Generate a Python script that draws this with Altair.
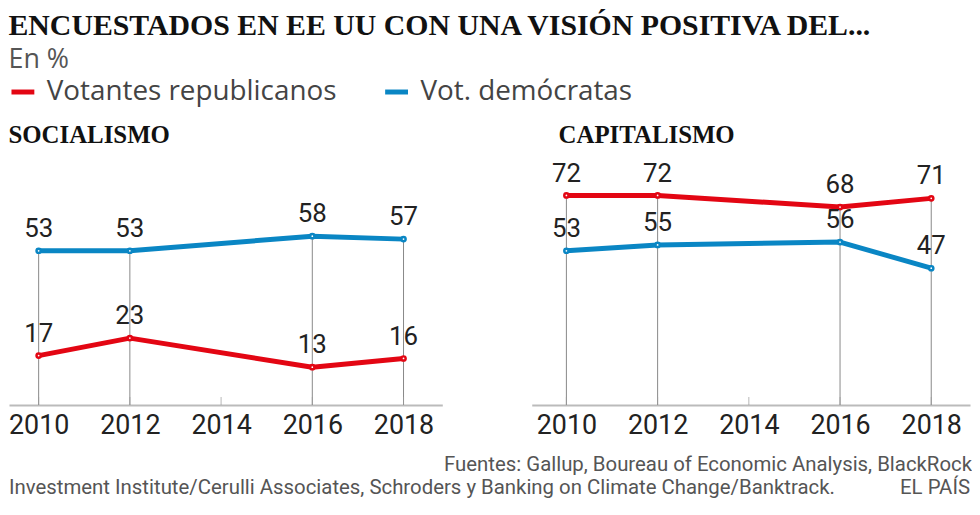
import altair as alt
import pandas as pd

years = [2010, 2012, 2016, 2018]
tick_years = [2010, 2012, 2014, 2016, 2018]
series = ["Votantes republicanos", "Vot. demócratas"]
colors = ["#e30613", "#0a86c4"]
soc_rep = [17, 23, 13, 16]
soc_dem = [53, 53, 58, 57]
cap_rep = [72, 72, 68, 71]
cap_dem = [53, 55, 56, 47]
title_text = "ENCUESTADOS EN EE UU CON UNA VISIÓN POSITIVA DEL..."
subtitle_text = "En %"
panel_titles = ["SOCIALISMO", "CAPITALISMO"]
footer_1 = "Fuentes: Gallup, Boureau of Economic Analysis, BlackRock"
footer_2 = "Investment Institute/Cerulli Associates, Schroders y Banking on Climate Change/Banktrack."
footer_3 = "EL PAÍS"

SANS = "Roboto"
WIDE = "Open Sans"
SERIF = "Liberation Serif"


def long_df(rep, dem):
    rows = []
    for s, vals in zip(series, [rep, dem]):
        for y, v in zip(years, vals):
            rows.append({"year": y, "serie": s, "value": v})
    return pd.DataFrame(rows)


def panel(rep, dem, ptitle, x0, width, dx):
    df = long_df(rep, dem)
    rules = pd.DataFrame({"year": years, "top": [max(a, b) for a, b in zip(rep, dem)],
                          "base": [0] * len(years)})
    ticks = pd.DataFrame({"year": tick_years, "base": [0] * len(tick_years)})
    xs = alt.Scale(domain=[x0, 2018.85], nice=False, zero=False)
    ys = alt.Scale(domain=[0, 85], nice=False)
    xax = alt.Axis(values=tick_years, format="d", ticks=False, labelFontSize=27,
                   labelColor="#222", labelFont=SANS, domainColor="#bbb", domainWidth=2,
                   labelPadding=8, title=None, grid=False)
    X = alt.X("year:Q", scale=xs, axis=xax)
    cscale = alt.Scale(domain=series, range=colors)
    legend = alt.Legend(orient="top", title=None, direction="horizontal", symbolType="stroke",
                        symbolStrokeWidth=5, symbolSize=529, labelFontSize=28, labelFont=WIDE,
                        labelColor="#444", columnPadding=38, labelOffset=10, padding=0,
                        labelLimit=600, offset=17)

    rule = alt.Chart(rules).mark_rule(color="#888", strokeWidth=1).encode(
        x=X, y=alt.Y("top:Q", scale=ys, axis=None), y2="base:Q")
    tick = alt.Chart(ticks).mark_tick(orient="vertical", size=8, thickness=1, color="#999",
                                      yOffset=-4).encode(x=X, y=alt.Y("base:Q", scale=ys, axis=None))
    line = alt.Chart(df).mark_line(strokeWidth=5, strokeCap="round", strokeJoin="round").encode(
        x=X, y=alt.Y("value:Q", scale=ys, axis=None),
        color=alt.Color("serie:N", scale=cscale, legend=legend))
    pts = alt.Chart(df).mark_point(filled=True, fill="white", size=18, strokeWidth=2.5,
                                   opacity=1).encode(
        x=X, y=alt.Y("value:Q", scale=ys, axis=None),
        stroke=alt.Stroke("serie:N", scale=cscale, legend=None))
    lab = alt.Chart(df).mark_text(baseline="bottom", dy=-9, fontSize=26, font=SANS,
                                  color="#222").encode(
        x=X, y=alt.Y("value:Q", scale=ys, axis=None), text="value:Q")
    return alt.layer(rule, tick, line, pts, lab).properties(
        width=width, height=249,
        title=alt.TitleParams(ptitle, anchor="start", dx=dx, font=SERIF, fontSize=25,
                              fontWeight="bold", color="#111", offset=10))


left = panel(soc_rep, soc_dem, panel_titles[0], 2009.35, 436, 0)
right = panel(cap_rep, cap_dem, panel_titles[1], 2009.24, 441, 27)
panels = alt.hconcat(left, right, spacing=90).resolve_scale(color="shared")

FS = 20.5
f1 = alt.Chart(pd.DataFrame({"t": [footer_1]})).mark_text(
    align="right", baseline="top", fontSize=FS, font=SANS, color="#555").encode(
    x=alt.value(969), y=alt.value(0), text="t:N")
f2 = alt.Chart(pd.DataFrame({"t": [footer_2]})).mark_text(
    align="left", baseline="top", fontSize=FS, font=SANS, color="#555").encode(
    x=alt.value(0), y=alt.value(23), text="t:N")
f3 = alt.Chart(pd.DataFrame({"t": [footer_3]})).mark_text(
    align="right", baseline="top", fontSize=FS, font=SANS, color="#555").encode(
    x=alt.value(967), y=alt.value(23), text="t:N")
footer = alt.layer(f1, f2, f3).properties(width=967, height=40)

chart = alt.vconcat(panels, footer, spacing=16).properties(
    padding={"top": 2, "left": 0, "right": 0, "bottom": 0},
    title=alt.TitleParams(title_text, subtitle=subtitle_text, anchor="start", font=SERIF,
                          fontSize=30, fontWeight="bold", color="#111", subtitleFont=WIDE,
                          subtitleFontSize=27, subtitleColor="#555", subtitlePadding=6,
                          offset=5, frame="bounds"),
).configure_view(stroke=None)

chart.save("out.html", embed_options={"renderer": "svg", "actions": False})
